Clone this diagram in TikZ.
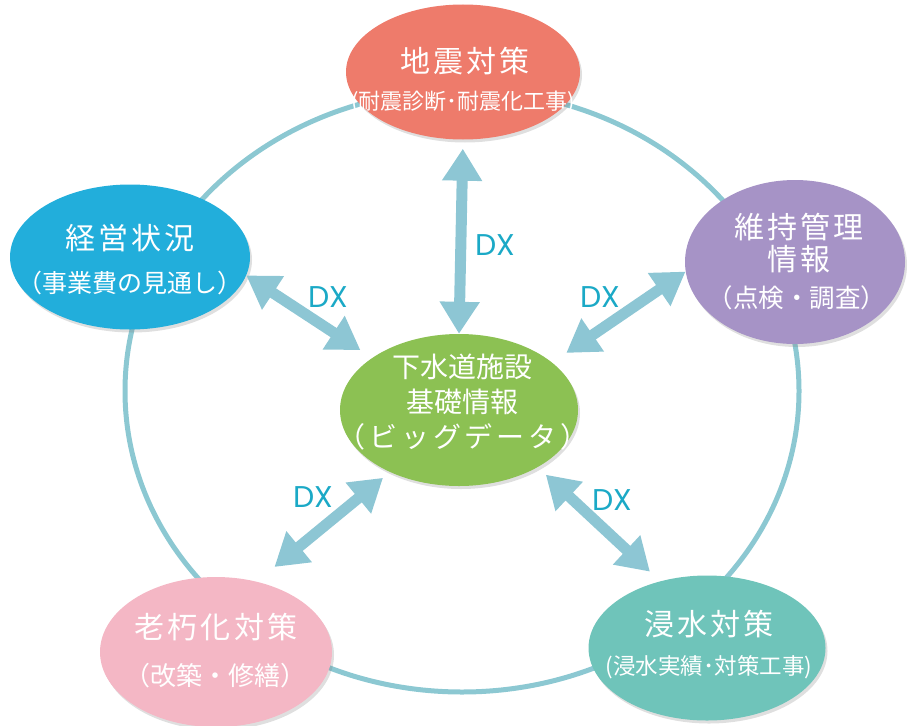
\documentclass[tikz,border=0pt]{standalone}
\usepackage{fontspec}
\newfontfamily\jpfont{Noto Sans CJK JP}
\newfontfamily\jpwide[LetterSpace=11]{Noto Sans CJK JP}
\newfontfamily\jpspread[LetterSpace=14]{Noto Sans CJK JP}
\newfontfamily\dxfont{Poppins}
\definecolor{quake-red}{RGB}{238,123,107}
\definecolor{finance-blue}{RGB}{34,174,219}
\definecolor{upkeep-purple}{RGB}{166,147,198}
\definecolor{base-green}{RGB}{140,193,83}
\definecolor{aging-pink}{RGB}{244,183,197}
\definecolor{flood-teal}{RGB}{111,196,186}
\definecolor{link-blue}{RGB}{141,198,212}
\definecolor{ring-blue}{RGB}{140,200,210}
\definecolor{dx-cyan}{RGB}{27,169,198}
\usetikzlibrary{arrows.meta}
\usetikzlibrary{shapes.geometric}
\usetikzlibrary{shadows}

\begin{document}
\begin{tikzpicture}[%
            x=1pt,y=-1pt,
            topic/.style={ellipse,inner sep=0pt,
              drop shadow={opacity=0.25,shadow xshift=2pt,shadow yshift=-3pt}},
            heading/.style={text=white,inner sep=0pt,
              font=\jpwide\fontsize{30}{32}\selectfont},
            detail/.style={text=white,inner sep=0pt,
              font=\jpfont\fontsize{#1}{#1}\selectfont},
            detail/.default=25,
            dxlink/.style={draw=link-blue,line width=11pt,
              {Triangle[width=38pt,length=32pt]}-{Triangle[width=38pt,length=32pt]}},
            dxtext/.style={text=dx-cyan,inner sep=0pt,
              font=\dxfont\fontsize{30}{30}\selectfont}
          ]
            \useasboundingbox (0,0) rectangle (909,725);

            \draw [ring-blue,line width=5pt] (462,391) ellipse [x radius=337pt,y radius=301pt];

            \node [topic,fill=quake-red,minimum width=234pt,minimum height=135pt] (jishin) at (463,72) {};
            \node [topic,fill=finance-blue,minimum width=240pt,minimum height=145pt] (keiei) at (130,257) {};
            \node [topic,fill=upkeep-purple,minimum width=220pt,minimum height=164pt] (iji) at (795,262) {};
            \node [topic,fill=base-green,minimum width=238pt,minimum height=152pt] (kiso) at (459,410) {};
            \node [topic,fill=aging-pink,minimum width=232pt,minimum height=150pt] (rokyu) at (216,652) {};
            \node [topic,fill=flood-teal,minimum width=237pt,minimum height=145pt] (shinsui) at (707,648) {};

            \node [heading] (jishin-title) at (465,61) {地震対策};
            \node [detail=22] (jishin-sub) at (463,102) {(耐震診断･耐震化工事)};
            \node [heading] (keiei-title) at (130,238) {経営状況};
            \node [detail] (keiei-sub) at (130,283) {（事業費の見通し）};
            \node [heading] (iji-title) at (799,227) {維持管理};
            \node [heading] (iji-title2) at (799,259) {情報};
            \node [detail=25.5] (iji-sub) at (797,298) {（点検・調査）};
            \node [detail=28] (kiso-l1) at (462,367) {下水道施設};
            \node [detail=28] (kiso-l2) at (462,402) {基礎情報};
            \node [text=white,inner sep=0pt,font=\jpspread\fontsize{28}{28}\selectfont] (kiso-l3) at (463,437) {（ビッグデータ）};
            \node [heading] (rokyu-title) at (216,627) {老朽化対策};
            \node [detail=26] (rokyu-sub) at (215,676) {（改築・修繕）};
            \node [heading] (shinsui-title) at (709,624) {浸水対策};
            \node [detail=22.5] (shinsui-sub) at (709,667) {(浸水実績･対策工事)};

            \draw [dxlink,shorten <=9pt] (jishin.south) -- (kiso.north);
            \draw [dxlink,shorten >=14pt] (keiei.-9) -- (kiso.149);
            \draw [dxlink,shorten <=17pt] (kiso.27) -- (iji.185);
            \draw [dxlink,shorten <=9pt,shorten >=23pt] (kiso.222) -- (rokyu.60);
            \draw [dxlink,shorten <=11pt,shorten >=14pt] (kiso.-36) -- (shinsui.125);

            \node [dxtext] (dx-top) at (495,245) {DX};
            \node [dxtext] (dx-left) at (328,297) {DX};
            \node [dxtext] (dx-right) at (600,297) {DX};
            \node [dxtext] (dx-lowleft) at (313,497) {DX};
            \node [dxtext] (dx-lowright) at (612,500) {DX};
          \end{tikzpicture}
\end{document}
